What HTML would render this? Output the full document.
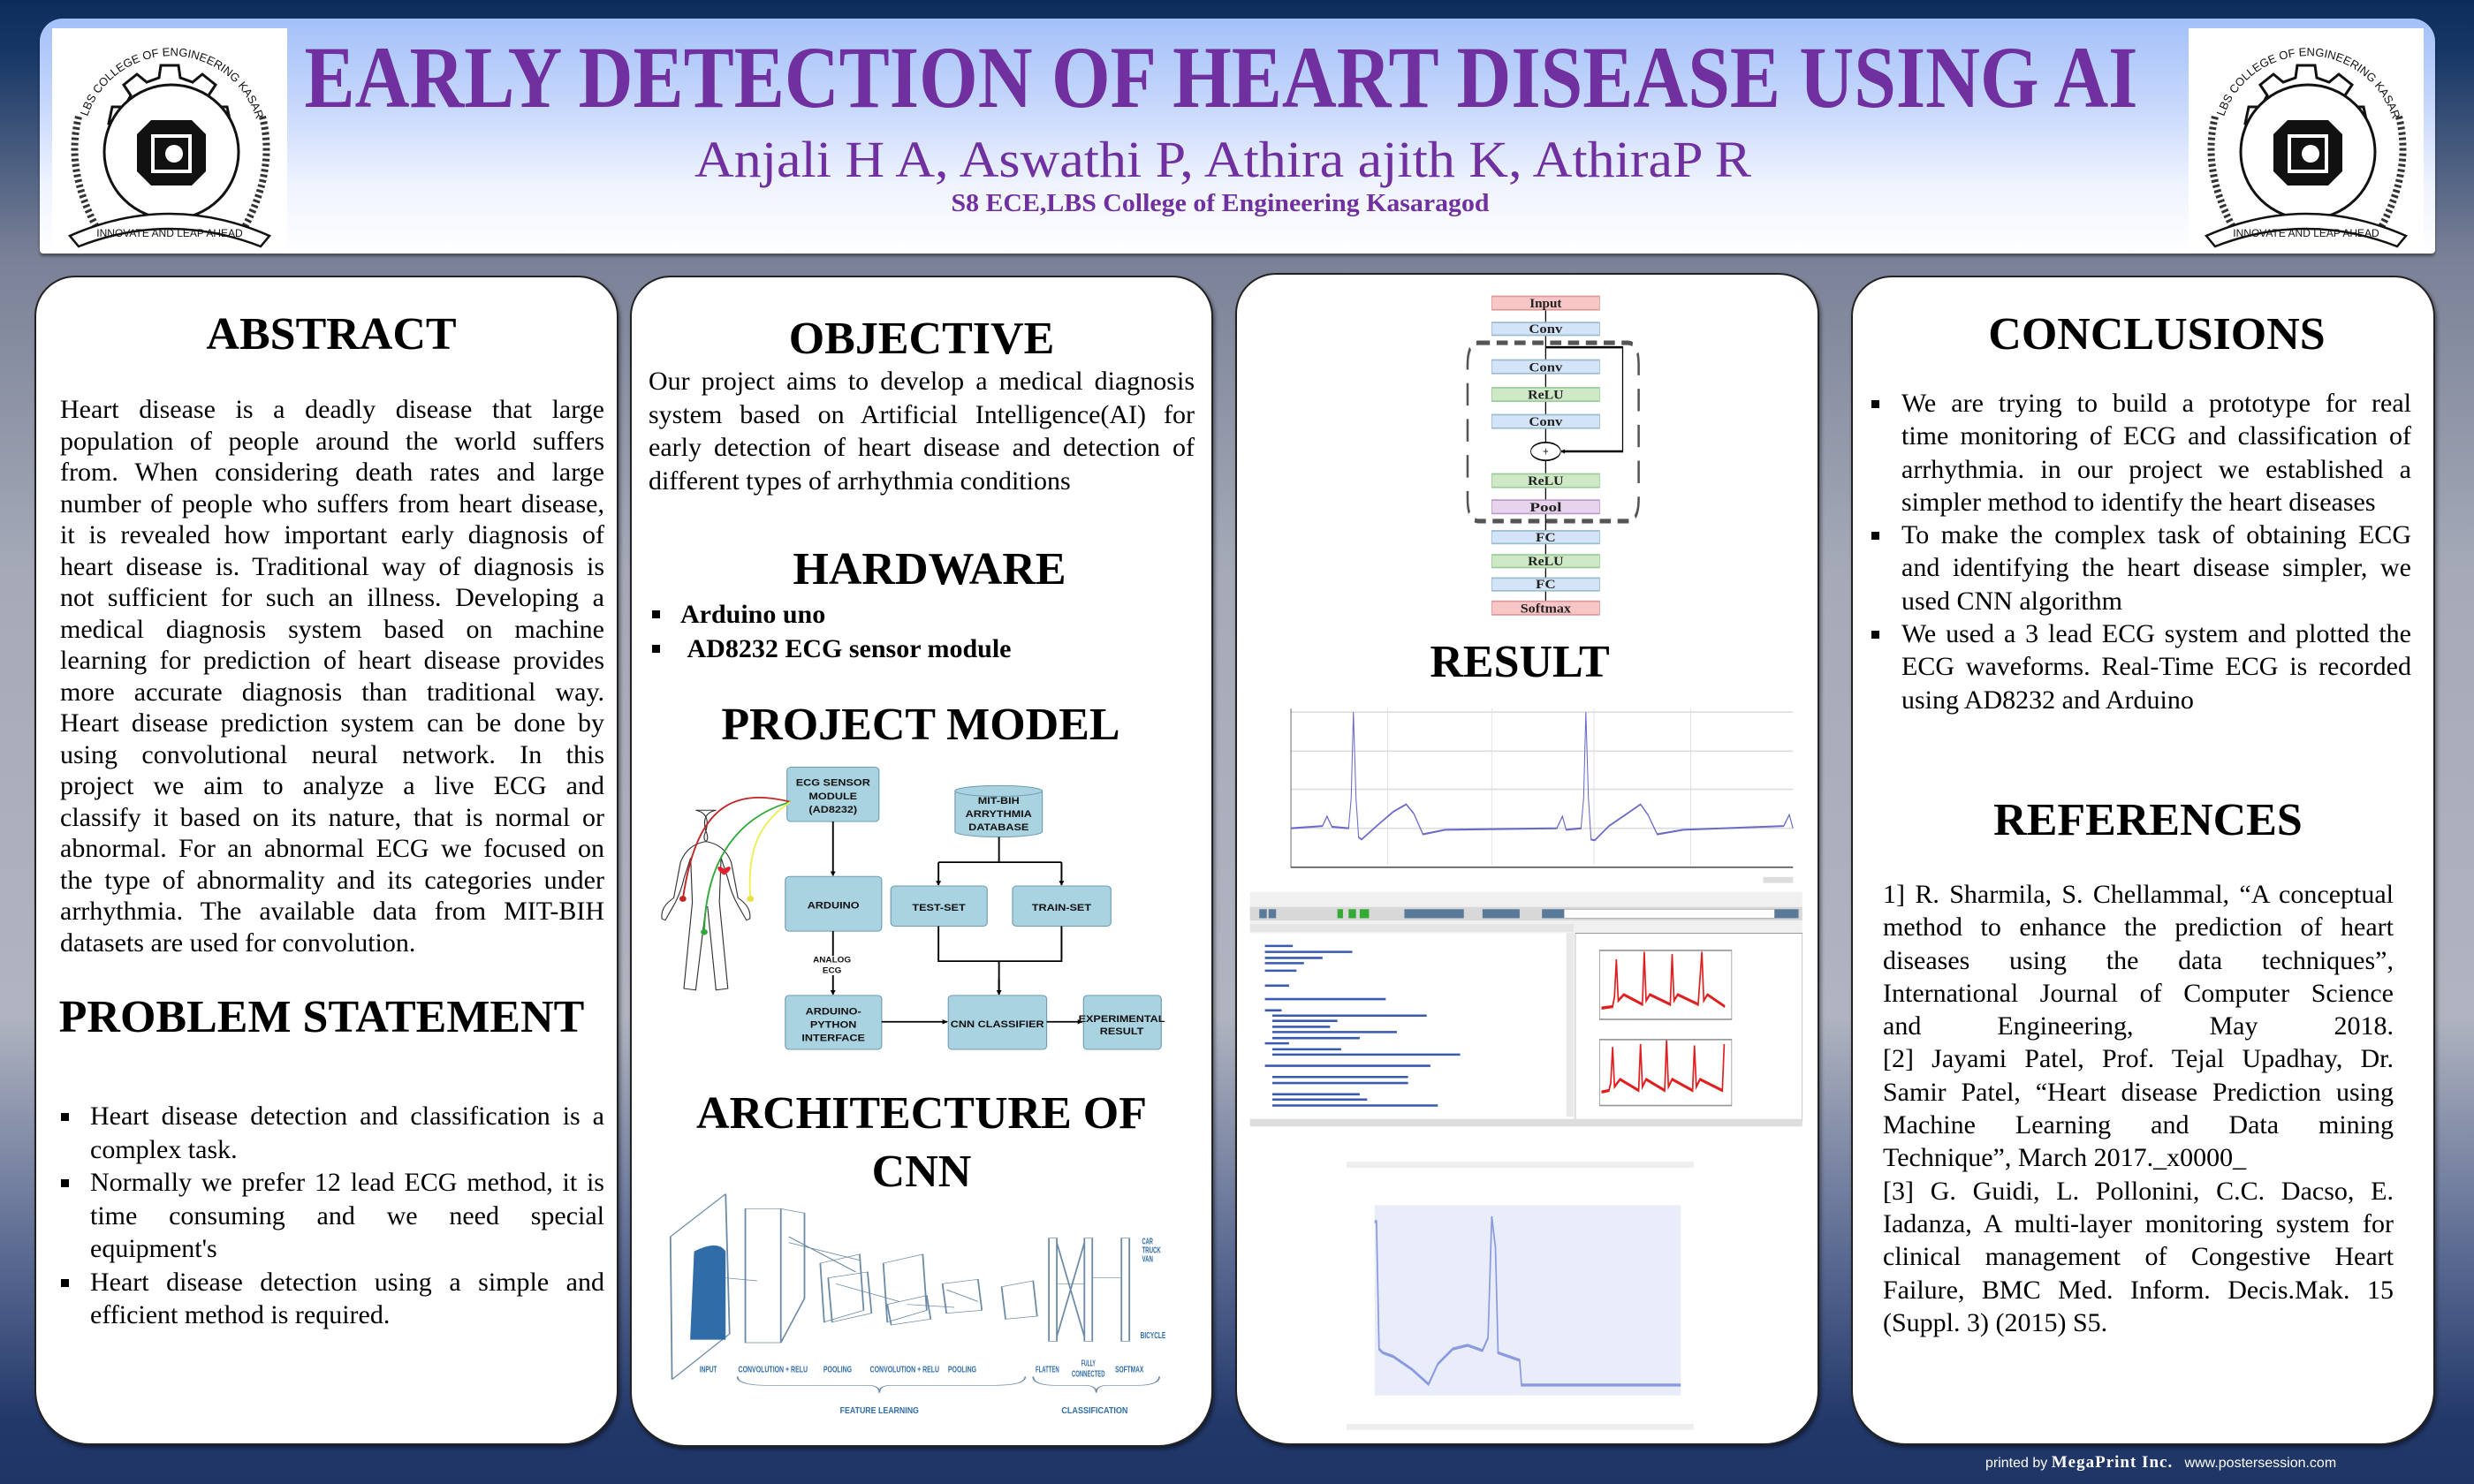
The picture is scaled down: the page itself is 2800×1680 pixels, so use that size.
<!DOCTYPE html>
<html><head><meta charset="utf-8"><style>
*{margin:0;padding:0;box-sizing:border-box}
body{width:2800px;height:1680px;overflow:hidden;position:relative;font-family:"Liberation Serif",serif;
background:linear-gradient(180deg,#0c2c5c 0px,#173766 60px,#7a8197 290px,#a6aab8 650px,#b0b4c0 1150px,#5b6a92 1420px,#223869 1610px,#1f3566 1680px)}
.abs{position:absolute}
.panel{position:absolute;background:#fff;border:2px solid #222;border-radius:46px 46px 62px 62px;box-shadow:2px 3px 4px rgba(0,0,0,.45)}
.h{position:absolute;font-weight:bold;font-size:52px;height:60px;line-height:60px;text-align:center;white-space:nowrap;color:#000;transform:translateX(-50%)}
.txt{position:absolute;font-size:30px;color:#000}
.txt div{height:var(--lh);line-height:var(--lh);white-space:nowrap;text-align:justify;text-align-last:justify}
.txt div.l{text-align:left;text-align-last:left}
.b{position:absolute;width:9px;height:9px;background:#000}
</style></head><body>

<div class="abs" style="left:45px;top:21px;width:2711px;height:266px;border-radius:26px 26px 4px 4px;background:linear-gradient(180deg,#a4c1fa 0%,#c4d6fb 35%,#eef3fe 70%,#fff 100%);box-shadow:0 3px 3px rgba(0,0,0,.4)"></div>

<svg class="abs" style="left:59px;top:32px" width="266" height="255" viewBox="0 0 266 255">
<g id="logo">
<rect width="266" height="255" fill="#fff"/>
<path d="M133 42 l10 0 l2 14 l14 5 l11-9 l15 12 l-8 12 l7 13 l14 0 l4 19 l-13 6 l0 15 l13 6 l-4 19 l-14 0 l-7 13 l8 12 l-15 12 l-11-9 l-14 5 l-2 14 l-20 0 l-2-14 l-14-5 l-11 9 l-15-12 l8-12 l-7-13 l-14 0 l-4-19 l13-6 l0-15 l-13-6 l4-19 l14 0 l7-13 l-8-12 l15-12 l11 9 l14-5 l2-14 z" fill="none" stroke="#111" stroke-width="3"/>
<circle cx="135" cy="140" r="76" fill="#fff" stroke="#111" stroke-width="3"/>
<polygon points="112,104 158,104 174,120 174,162 158,178 112,178 96,162 96,120" fill="#111"/>
<rect x="114" y="122" width="42" height="40" fill="none" stroke="#fff" stroke-width="4"/>
<circle cx="138" cy="142" r="10" fill="#fff"/>
<path d="M30 100 q-15 60 20 125" fill="none" stroke="#333" stroke-width="8" stroke-dasharray="3 3"/>
<path d="M238 100 q15 60 -20 125" fill="none" stroke="#333" stroke-width="8" stroke-dasharray="3 3"/>
<path d="M20 235 q113 -50 226 0 l-10 12 q-103-40 -206 0 z" fill="#fff" stroke="#111" stroke-width="2.5"/>
<text x="133" y="236" font-family="Liberation Sans" font-size="12" text-anchor="middle" fill="#111">INNOVATE AND LEAP AHEAD</text>
<path id="arc" d="M40 100 A100 100 0 0 1 230 100" fill="none"/>
<text font-family="Liberation Sans" font-size="13" fill="#111"><textPath href="#arc">LBS COLLEGE OF ENGINEERING KASARAGOD</textPath></text>
</g>
</svg>
<svg class="abs" style="left:2473px;top:32px" width="274" height="255" viewBox="0 0 266 255"><use href="#logo"/></svg>

<svg class="abs" style="left:0;top:0" width="2800" height="290">
<text x="1382" y="121" text-anchor="middle" font-family="Liberation Serif" font-weight="bold" font-size="100" fill="#7030a0" textLength="2075" lengthAdjust="spacingAndGlyphs">EARLY DETECTION OF HEART DISEASE USING AI</text>
<text x="1384" y="200" text-anchor="middle" font-family="Liberation Serif" font-size="58" fill="#7030a0" textLength="1196" lengthAdjust="spacingAndGlyphs">Anjali H A, Aswathi P, Athira ajith K, AthiraP R</text>
<text x="1381" y="239" text-anchor="middle" font-family="Liberation Serif" font-weight="bold" font-size="29" fill="#7030a0" textLength="609" lengthAdjust="spacingAndGlyphs">S8 ECE,LBS College of Engineering Kasaragod</text>
</svg>

<div class="panel" style="left:39px;top:312px;width:661px;height:1324px"></div>
<div class="panel" style="left:713px;top:312px;width:660px;height:1326px"></div>
<div class="panel" style="left:1398px;top:309px;width:661px;height:1327px"></div>
<div class="panel" style="left:2095px;top:312px;width:661px;height:1324px"></div>

<div class="h" style="left:375px;top:349px">ABSTRACT</div>
<div class="txt" style="left:68px;top:446px;width:616px;--lh:35.5px">
<div>Heart disease is a deadly disease that large</div>
<div>population of people around the world suffers</div>
<div>from. When considering death rates and large</div>
<div>number of people who suffers from heart disease,</div>
<div>it is revealed how important early diagnosis of</div>
<div>heart disease is. Traditional way of diagnosis is</div>
<div>not sufficient for such an illness. Developing a</div>
<div>medical diagnosis system based on machine</div>
<div>learning for prediction of heart disease provides</div>
<div>more accurate diagnosis than traditional way.</div>
<div>Heart disease prediction system can be done by</div>
<div>using convolutional neural network. In this</div>
<div>project we aim to analyze a live ECG and</div>
<div>classify it based on its nature, that is normal or</div>
<div>abnormal. For an abnormal ECG we focused on</div>
<div>the type of abnormality and its categories under</div>
<div>arrhythmia. The available data from MIT-BIH</div>
<div class="l">datasets are used for convolution.</div>
</div>
<div class="h" style="left:364px;top:1122px">PROBLEM STATEMENT</div>
<div class="txt" style="left:102px;top:1245px;width:582px;--lh:37.5px">
<div>Heart disease detection and classification is a</div>
<div class="l">complex task.</div>
<div>Normally we prefer 12 lead ECG method, it is</div>
<div>time consuming and we need special</div>
<div class="l">equipment's</div>
<div>Heart disease detection using a simple and</div>
<div class="l">efficient method is required.</div>
</div>
<div class="b" style="left:69px;top:1260px"></div>
<div class="b" style="left:69px;top:1335px"></div>
<div class="b" style="left:69px;top:1448px"></div>

<div class="h" style="left:1043px;top:354px">OBJECTIVE</div>
<div class="txt" style="left:734px;top:413px;width:618px;--lh:37.5px">
<div>Our project aims to develop a medical diagnosis</div>
<div>system based on Artificial Intelligence(AI) for</div>
<div>early detection of heart disease and detection of</div>
<div class="l">different types of arrhythmia conditions</div>
</div>
<div class="h" style="left:1052px;top:615px">HARDWARE</div>
<div class="txt" style="left:770px;top:676px;font-weight:bold;--lh:39px">
<div class="l">Arduino uno</div>
<div class="l">&nbsp;AD8232 ECG sensor module</div>
</div>
<div class="b" style="left:738px;top:691px"></div>
<div class="b" style="left:738px;top:730px"></div>
<div class="h" style="left:1042px;top:791px">PROJECT MODEL</div>

<svg class="abs" style="left:730px;top:850px" width="600" height="370" viewBox="0 0 1568 1100" preserveAspectRatio="none">
<defs><marker id="ar2" viewBox="0 0 10 10" markerWidth="16" markerHeight="16" refX="9" refY="5" orient="auto" markerUnits="userSpaceOnUse"><path d="M0 0 L10 5 L0 10z" fill="#000"/></marker></defs>
<g fill="#a9d3e1" stroke="#6f9db0" stroke-width="3">
<rect x="420" y="55" width="272" height="183" rx="12"/>
<rect x="415" y="423" width="285" height="184" rx="12"/>
<rect x="415" y="823" width="285" height="182" rx="12"/>
<rect x="727" y="455" width="285" height="135" rx="12"/>
<rect x="1087" y="455" width="291" height="135" rx="12"/>
<rect x="897" y="823" width="291" height="182" rx="12"/>
<rect x="1297" y="823" width="230" height="182" rx="12"/>
<path d="M917 135 L917 272 A129 18 0 0 0 1175 272 L1175 135"/>
<ellipse cx="1046" cy="135" rx="129" ry="18"/>
</g>
<g fill="none" stroke="#000" stroke-width="5">
<path d="M556 238 V420" marker-end="url(#ar2)"/>
<path d="M556 607 V690 M556 755 V820" marker-end="url(#ar2)"/>
<path d="M1047 290 V375 M868 375 H1232"/>
<path d="M868 375 V452" marker-end="url(#ar2)"/><path d="M1232 375 V452" marker-end="url(#ar2)"/>
<path d="M868 590 V708 H1232 V590 M1047 708 V820" />
<path d="M1047 770 V820" marker-end="url(#ar2)"/>
<path d="M700 912 H894" marker-end="url(#ar2)"/>
<path d="M1188 912 H1294" marker-end="url(#ar2)"/>
</g>
<g font-family="Liberation Sans" font-weight="bold" font-size="33" text-anchor="middle" fill="#111">
<text x="556" y="118">ECG SENSOR</text><text x="556" y="163">MODULE</text><text x="556" y="208">(AD8232)</text>
<text x="1046" y="178">MIT-BIH</text><text x="1046" y="223">ARRYTHMIA</text><text x="1046" y="268">DATABASE</text>
<text x="557" y="530">ARDUINO</text>
<text x="869" y="538">TEST-SET</text><text x="1232" y="538">TRAIN-SET</text>
<text x="557" y="888">ARDUINO-</text><text x="557" y="932">PYTHON</text><text x="557" y="976">INTERFACE</text>
<text x="1042" y="930">CNN CLASSIFIER</text>
<text x="1410" y="912">EXPERIMENTAL</text><text x="1410" y="955">RESULT</text>
<text x="553" y="712" font-size="26">ANALOG</text><text x="553" y="748" font-size="26">ECG</text>
</g>
<path d="M210 200 q-45 10 -30 70 q10 25 0 35 q-55 10 -75 70 l-20 120 q-40 30 -35 70 l10 5 l25 -50 q20 -40 30 -90 l20 -70 l5 150 l-25 290 l35 5 l30 -280 l5 0 l25 280 l35 -5 l-25 -290 l5 -150 l20 70 q10 50 30 90 l25 50 l10 -5 q5 -40 -35 -70 l-20 -120 q-20 -60 -75 -70 q-10 -10 0 -35 q15 -60 -30 -70z" fill="#fff" stroke="#333" stroke-width="3"/>
<path d="M234 398 c-20-20 -30 0 0 20 c30-20 20-40 0-20z" fill="#e0202a"/>
<path d="M430 172 C250 120 150 200 112 498" fill="none" stroke="#c42424" stroke-width="5"/>
<path d="M430 172 C280 220 180 360 175 610" fill="none" stroke="#2ea83a" stroke-width="5"/>
<path d="M430 172 C340 240 300 330 312 498" fill="none" stroke="#eeee55" stroke-width="5"/>
<circle cx="112" cy="498" r="10" fill="#c42424"/><circle cx="175" cy="610" r="10" fill="#2ea83a"/><circle cx="312" cy="498" r="10" fill="#e8e040"/>
</svg>

<div class="h" style="left:1043px;top:1231px">ARCHITECTURE OF</div>
<div class="h" style="left:1043px;top:1297px">CNN</div>

<svg class="abs" style="left:757px;top:1350px" width="564" height="255" viewBox="848 450 632 765" preserveAspectRatio="none">
<g fill="none" stroke="#6a8aa6" stroke-width="2">
<path d="M850 600 L920 455 L925 930 L852 1085z"/>
<path d="M945 505 L990 505 L1020 520 L1020 810 L990 960 L945 960z M990 505 V960"/>
<path d="M1040 690 L1090 660 L1095 850 L1045 890z M1050 740 L1100 720 L1105 860 L1055 890z"/>
<path d="M1120 690 L1170 660 L1175 850 L1125 890z M1125 830 L1175 800 L1180 880 L1130 900z"/>
<path d="M1195 760 L1240 745 L1245 850 L1200 860z M1270 770 L1310 750 L1315 870 L1275 880z"/>
<path d="M1000 600 L1085 720 M1000 620 L1090 680 M1060 760 L1140 820 M1150 830 L1210 840 M1200 780 L1240 820 M920 740 L960 750"/>
<rect x="1330" y="605" width="10" height="350"/><rect x="1375" y="605" width="10" height="350"/><rect x="1422" y="605" width="10" height="350"/>
<path d="M1340 620 L1375 940 M1340 940 L1375 620 M1340 760 L1375 760 M1385 740 L1422 740"/>
<path d="M935 1075 q0 30 40 30 H1100 q15 0 15 25 q0 -25 15 -25 H1260 q40 0 40 -30"/>
<path d="M1310 1075 q0 30 30 30 H1375 q15 0 15 25 q0 -25 15 -25 H1440 q30 0 30 -30"/>
</g>
<path d="M880 650 q30 -40 40 0 V950 H875z" fill="#2f6ca8"/>
<g font-family="Liberation Sans" font-weight="bold" font-size="30" fill="#2f6ca8" text-anchor="middle" lengthAdjust="spacingAndGlyphs">
<text x="898" y="1060" textLength="22" lengthAdjust="spacingAndGlyphs">INPUT</text>
<text x="980" y="1060" textLength="88" lengthAdjust="spacingAndGlyphs">CONVOLUTION + RELU</text>
<text x="1062" y="1060" textLength="36" lengthAdjust="spacingAndGlyphs">POOLING</text>
<text x="1147" y="1060" textLength="88" lengthAdjust="spacingAndGlyphs">CONVOLUTION + RELU</text>
<text x="1220" y="1060" textLength="36" lengthAdjust="spacingAndGlyphs">POOLING</text>
<text x="1328" y="1060" textLength="30" lengthAdjust="spacingAndGlyphs">FLATTEN</text>
<text x="1380" y="1040" textLength="18" lengthAdjust="spacingAndGlyphs">FULLY</text>
<text x="1380" y="1075" textLength="42" lengthAdjust="spacingAndGlyphs">CONNECTED</text>
<text x="1432" y="1060" textLength="36" lengthAdjust="spacingAndGlyphs">SOFTMAX</text>
<text x="1115" y="1200" textLength="100" lengthAdjust="spacingAndGlyphs">FEATURE LEARNING</text>
<text x="1388" y="1200" textLength="84" lengthAdjust="spacingAndGlyphs">CLASSIFICATION</text>
<text x="1455" y="625" textLength="14" lengthAdjust="spacingAndGlyphs">CAR</text>
<text x="1460" y="655" textLength="24" lengthAdjust="spacingAndGlyphs">TRUCK</text>
<text x="1455" y="685" textLength="14" lengthAdjust="spacingAndGlyphs">VAN</text>
<text x="1462" y="945" textLength="32" lengthAdjust="spacingAndGlyphs">BICYCLE</text>
</g>
</svg>

<svg class="abs" style="left:1400px;top:310px" width="660" height="1330" viewBox="0 0 1568 1568" preserveAspectRatio="none">
<defs><marker id="a3" markerWidth="10" markerHeight="6" refX="9" refY="3" orient="auto" markerUnits="userSpaceOnUse"><path d="M0 0 L10 3 L0 6z" fill="#000"/></marker></defs>
<path d="M650 92 H1050 q30 0 30 30 V300 q0 30 -30 30 H650 q-30 0 -30 -30 V122 q0 -30 30 -30z" fill="none" stroke="#555" stroke-width="6" stroke-dasharray="30 18"/>
<g stroke="#000" stroke-width="3" fill="none">
<path d="M830 48 V65 M830 82 V115 M830 133 V152 M830 170 V188 M830 206 V225 M830 249 V267 M830 285 V302 M830 320 V343 M830 360 V375 M830 392 V406 M830 423 V437"/>
<path d="M830 98 H1037 V237 H872" marker-end="url(#a3)"/>
</g>
<g stroke-width="2" font-family="Liberation Serif" font-weight="bold" font-size="17" text-anchor="middle">
<rect x="685" y="30" width="290" height="18" fill="#f8c6c6" stroke="#d99"/>
<rect x="685" y="65" width="290" height="17" fill="#d4e4f8" stroke="#9bc"/>
<rect x="685" y="115" width="290" height="18" fill="#d4e4f8" stroke="#9bc"/>
<rect x="685" y="152" width="290" height="18" fill="#cfe8c6" stroke="#9c9"/>
<rect x="685" y="188" width="290" height="18" fill="#d4e4f8" stroke="#9bc"/>
<ellipse cx="830" cy="237" rx="40" ry="12" fill="#fff" stroke="#000"/>
<rect x="685" y="267" width="290" height="18" fill="#cfe8c6" stroke="#9c9"/>
<rect x="685" y="302" width="290" height="18" fill="#e6d4ec" stroke="#b9c"/>
<rect x="685" y="343" width="290" height="17" fill="#d4e4f8" stroke="#9bc"/>
<rect x="685" y="375" width="290" height="17" fill="#cfe8c6" stroke="#9c9"/>
<rect x="685" y="406" width="290" height="17" fill="#d4e4f8" stroke="#9bc"/>
<rect x="685" y="437" width="290" height="18" fill="#f8c6c6" stroke="#d99"/>
<g fill="#222" stroke="none">
<text x="830" y="45" textLength="86" lengthAdjust="spacingAndGlyphs">Input</text>
<text x="830" y="79" textLength="90" lengthAdjust="spacingAndGlyphs">Conv</text>
<text x="830" y="130" textLength="90" lengthAdjust="spacingAndGlyphs">Conv</text>
<text x="830" y="167" textLength="96" lengthAdjust="spacingAndGlyphs">ReLU</text>
<text x="830" y="203" textLength="90" lengthAdjust="spacingAndGlyphs">Conv</text>
<text x="830" y="243" textLength="16" lengthAdjust="spacingAndGlyphs">+</text>
<text x="830" y="282" textLength="96" lengthAdjust="spacingAndGlyphs">ReLU</text>
<text x="830" y="317" textLength="86" lengthAdjust="spacingAndGlyphs">Pool</text>
<text x="830" y="357" textLength="54" lengthAdjust="spacingAndGlyphs">FC</text>
<text x="830" y="389" textLength="96" lengthAdjust="spacingAndGlyphs">ReLU</text>
<text x="830" y="420" textLength="54" lengthAdjust="spacingAndGlyphs">FC</text>
<text x="830" y="452" textLength="136" lengthAdjust="spacingAndGlyphs">Softmax</text>
</g>
</g>
<rect x="90" y="560" width="1410" height="252" fill="#fff"/>
<g stroke="#ddd" stroke-width="2"><path d="M145 585 H1495 M145 637 H1495 M145 688 H1495 M145 740 H1495 M405 580 V790 M685 580 V790 M960 580 V790 M1220 580 V790"/></g>
<path d="M145 580 V792 H1495" stroke="#555" stroke-width="2" fill="none"/>
<path d="M145 740 L230 737 L242 724 L255 738 L300 740 L307 700 L313 585 L320 700 L327 752 L335 755 L380 735 L420 718 L455 708 L475 720 L500 748 L560 742 L700 741 L860 740 L875 724 L885 742 L925 740 L932 700 L938 585 L945 700 L952 755 L962 756 L1000 737 L1050 720 L1085 708 L1105 722 L1130 748 L1200 742 L1470 737 L1485 722 L1495 740" fill="none" stroke="#6a6ac8" stroke-width="2.5"/>
<rect x="1415" y="805" width="80" height="8" fill="#ddd"/>
<rect x="35" y="825" width="1485" height="310" fill="#f0f0f0"/>
<rect x="35" y="845" width="1485" height="18" fill="#d8d8d8"/>
<g fill="#5a7a9a"><rect x="60" y="848" width="20" height="12"/><rect x="85" y="848" width="20" height="12"/><rect x="270" y="848" width="15" height="12" fill="#3a3"/><rect x="300" y="848" width="20" height="12" fill="#3a3"/><rect x="330" y="848" width="25" height="12" fill="#3a3"/><rect x="450" y="848" width="160" height="12"/><rect x="660" y="848" width="100" height="12"/><rect x="820" y="848" width="60" height="12"/><rect x="1440" y="848" width="70" height="12"/></g>
<rect x="880" y="848" width="565" height="12" fill="#fff" stroke="#aaa"/>
<rect x="35" y="868" width="870" height="10" fill="#e4e4e4"/>
<rect x="35" y="880" width="870" height="250" fill="#fff"/>
<g stroke="#3a5ab0" stroke-width="3"><path d="M75 897 H150 M75 905 H310 M75 913 H230 M75 920 H180 M75 930 H160 M75 950 H140 M75 968 H400 M75 983 H120 M95 990 H510 M95 997 H270 M95 1005 H250 M95 1012 H430 M95 1020 H330 M75 1027 H140 M95 1035 H280 M95 1042 H600 M75 1057 H520 M95 1072 H460 M95 1080 H460 M95 1095 H330 M95 1102 H350 M95 1110 H540"/></g>
<rect x="885" y="880" width="20" height="245" fill="#e8e8e8"/>
<rect x="910" y="880" width="610" height="250" fill="#fff" stroke="#888"/>
<g stroke="#e02020" stroke-width="4" fill="none">
<path d="M980 980 L1010 978 L1015 965 L1020 915 L1025 970 L1040 962 L1090 975 L1095 905 L1100 970 L1110 962 L1165 975 L1170 908 L1175 970 L1185 962 L1240 975 L1250 905 L1255 970 L1265 962 L1312 978"/>
<path d="M980 1092 L1000 1090 L1005 1080 L1010 1032 L1015 1085 L1030 1075 L1080 1090 L1085 1028 L1090 1085 L1100 1075 L1150 1090 L1155 1022 L1160 1085 L1170 1075 L1225 1090 L1230 1030 L1235 1085 L1245 1075 L1305 1090 L1310 1028"/>
</g>
<g fill="none" stroke="#999" stroke-width="2"><rect x="975" y="903" width="355" height="92"/><rect x="975" y="1022" width="355" height="88"/></g>
<rect x="35" y="1128" width="1485" height="10" fill="#ddd"/>
<rect x="295" y="1185" width="933" height="8" fill="#eee"/>
<rect x="370" y="1243" width="823" height="254" fill="#e9edf9"/>
<path d="M370 1265 L375 1265 L382 1435 L392 1440 L420 1445 L470 1462 L515 1482 L540 1455 L580 1435 L620 1430 L660 1437 L675 1420 L685 1258 L695 1300 L702 1440 L760 1450 L765 1483 L1193 1483" fill="none" stroke="#8a9ae0" stroke-width="4"/>
<rect x="295" y="1535" width="933" height="8" fill="#eee"/>
</svg>
<div class="h" style="left:1720px;top:720px">RESULT</div>

<div class="h" style="left:2441px;top:349px">CONCLUSIONS</div>
<div class="txt" style="left:2152px;top:438px;width:577px;--lh:37.3px">
<div>We are trying to build a prototype for real</div>
<div>time monitoring of ECG and classification of</div>
<div>arrhythmia. in our project we established a</div>
<div class="l">simpler method to identify the heart diseases</div>
<div>To make the complex task of obtaining ECG</div>
<div>and identifying the heart disease simpler, we</div>
<div class="l">used CNN algorithm</div>
<div>We used a 3 lead ECG system and plotted the</div>
<div>ECG waveforms. Real-Time ECG is recorded</div>
<div class="l">using AD8232 and Arduino</div>
</div>
<div class="b" style="left:2118px;top:453px"></div>
<div class="b" style="left:2118px;top:602px"></div>
<div class="b" style="left:2118px;top:714px"></div>
<div class="h" style="left:2431px;top:899px">REFERENCES</div>
<div class="txt" style="left:2131px;top:994px;width:578px;--lh:37.3px">
<div>1] R. Sharmila, S. Chellammal, “A conceptual</div>
<div>method to enhance the prediction of heart</div>
<div>diseases using the data techniques”,</div>
<div>International Journal of Computer Science</div>
<div>and Engineering, May 2018.</div>
<div>[2] Jayami Patel, Prof. Tejal Upadhay, Dr.</div>
<div>Samir Patel, “Heart disease Prediction using</div>
<div>Machine Learning and Data mining</div>
<div class="l">Technique”, March 2017._x0000_</div>
<div>[3] G. Guidi, L. Pollonini, C.C. Dacso, E.</div>
<div>Iadanza, A multi-layer monitoring system for</div>
<div>clinical management of Congestive Heart</div>
<div>Failure, BMC Med. Inform. Decis.Mak. 15</div>
<div class="l">(Suppl. 3) (2015) S5.</div>
</div>

<div class="abs" style="left:2247px;top:1645px;width:500px;font-family:'Liberation Sans',sans-serif;font-size:16px;color:#fff;white-space:nowrap">printed by <b style="font-family:'Liberation Serif',serif;font-size:19px;letter-spacing:1px">MegaPrint Inc.</b>&nbsp;&nbsp; www.postersession.com</div>
</body></html>
